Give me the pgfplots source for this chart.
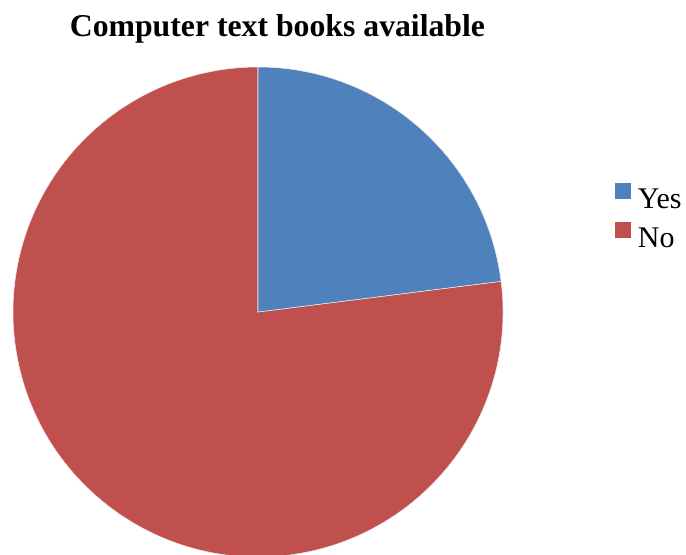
\documentclass[border=0pt]{standalone}
\usepackage{fontspec}
\setmainfont{Liberation Serif}
\usepackage{pgfplots}
\usepackage{pgfplotstable}
\pgfplotsset{compat=1.18}
\definecolor{yescol}{HTML}{4F81BD}
\definecolor{nocol}{HTML}{C0504D}
\pgfplotstableread{
label value
Yes 23
No 77
}\piedata
\begin{document}
\begin{tikzpicture}
\clip (0pt,0pt) rectangle (514.5pt,415.5pt);
\node[anchor=base,font=\fontsize{23.8}{28}\selectfont\bfseries] at (208.1pt,387.75pt) {Computer text books available};
\pgfplotstablegetelem{0}{value}\of\piedata \let\vyes\pgfplotsretval
\pgfplotstablegetelem{1}{value}\of\piedata \let\vno\pgfplotsretval
\pgfmathsetmacro\aa{90}
\pgfmathsetmacro\ab{90-3.6*\vyes}
\pgfmathsetmacro\ac{\ab-3.6*\vno}
\pgfmathsetmacro\cb{cos(\ab)}
\pgfmathsetmacro\sb{sin(\ab)}
\begin{axis}[
  at={(193.5pt,181.5pt)}, anchor=center,
  scale only axis, width=367.5pt, height=367.5pt,
  xmin=-1, xmax=1, ymin=-1, ymax=1,
  hide axis, clip=false,
  legend style={
    at={(1.2286,0.694)}, anchor=west, draw=none, fill=none,
    inner sep=0pt, row sep=7pt,
    font=\fontsize{22.5}{26}\selectfont,
    legend cell align=left,
    nodes={inner sep=1pt},
    /tikz/every odd column/.append style={column sep=4pt},
  },
  legend image code/.code={\fill[#1,draw=none] (0pt,1pt) rectangle (12pt,13pt);},
]
\fill[nocol, draw=white!85!gray, line width=0.4pt] (axis cs:0,0) -- (axis cs:\cb,\sb) arc[start angle=\ab, end angle=\ac, radius=183.75pt] -- cycle;
\fill[yescol, draw=white!85!gray, line width=0.4pt] (axis cs:0,0) -- (axis cs:0,1) arc[start angle=\aa, end angle=\ab, radius=183.75pt] -- cycle;
\addlegendimage{fill=yescol,draw=none}
\addlegendentry{Yes}
\addlegendimage{fill=nocol,draw=none}
\addlegendentry{No}
\end{axis}
\end{tikzpicture}
\end{document}
